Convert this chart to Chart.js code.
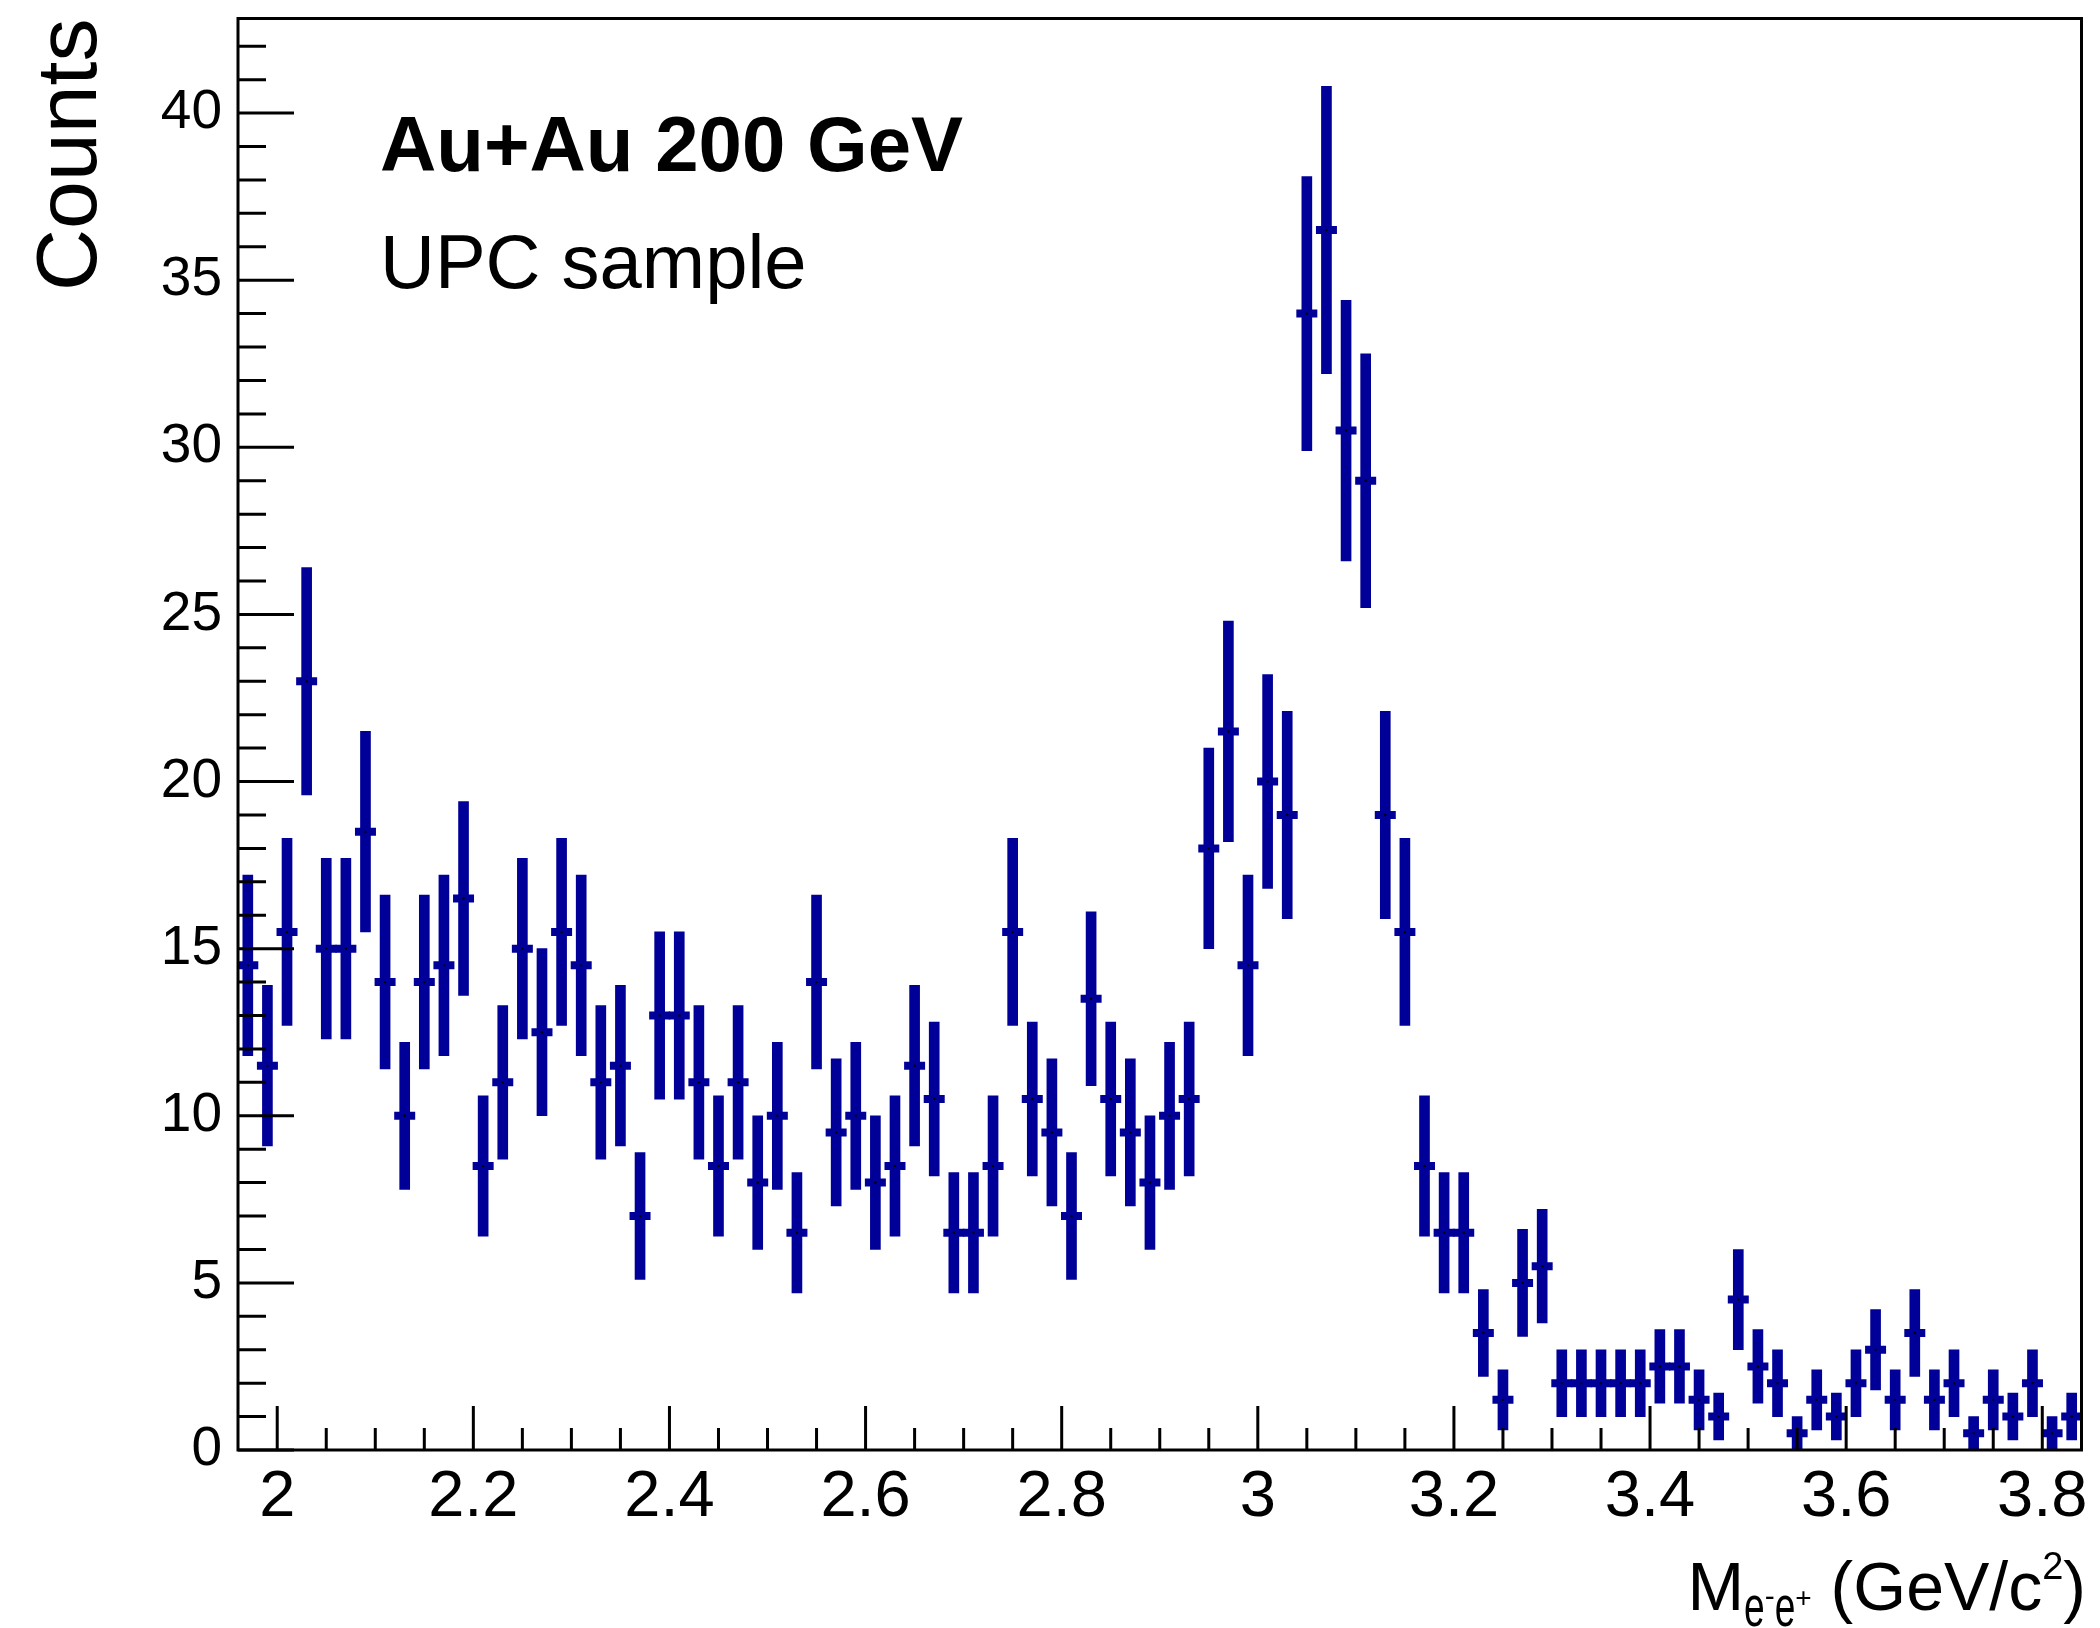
<!DOCTYPE html>
<html>
<head>
  <title>Dielectron invariant mass, UPC sample</title>
  <script src="https://cdn.jsdelivr.net/npm/chart.js@4.4.1/dist/chart.umd.min.js"></script>
  <style>
    html, body { margin: 0; padding: 0; background: #fff; }
    #wrap { width: 2100px; height: 1628px; }
  </style>
</head>
<body>
  <div id="wrap"><canvas id="massChart" width="2100" height="1628"></canvas></div>

  <script>
    // bin centres (GeV/c^2), bin width 0.02
    var massBins = [1.97,1.99,2.01,2.03,2.05,2.07,2.09,2.11,2.13,2.15,2.17,2.19,
      2.21,2.23,2.25,2.27,2.29,2.31,2.33,2.35,2.37,2.39,
      2.41,2.43,2.45,2.47,2.49,2.51,2.53,2.55,2.57,2.59,
      2.61,2.63,2.65,2.67,2.69,2.71,2.73,2.75,2.77,2.79,
      2.81,2.83,2.85,2.87,2.89,2.91,2.93,2.95,2.97,2.99,
      3.01,3.03,3.05,3.07,3.09,3.11,3.13,3.15,3.17,3.19,
      3.21,3.23,3.25,3.27,3.29,3.31,3.33,3.35,3.37,3.39,
      3.41,3.43,3.45,3.47,3.49,3.51,3.53,3.55,3.57,3.59,
      3.61,3.63,3.65,3.67,3.69,3.71,3.73,3.75,3.77,3.79,
      3.81,3.83];

    var counts = [14.5,11.5,15.5,23,15,15,18.5,14,10,14,14.5,16.5,
      8.5,11,15,12.5,15.5,14.5,11,11.5,7,13,
      13,11,8.5,11,8,10,6.5,14,9.5,10,
      8,8.5,11.5,10.5,6.5,6.5,8.5,15.5,10.5,9.5,
      7,13.5,10.5,9.5,8,10,10.5,18,21.5,14.5,
      20,19,34,36.5,30.5,29,19,15.5,8.5,6.5,
      6.5,3.5,1.5,5,5.5,2,2,2,2,2,
      2.5,2.5,1.5,1,4.5,2.5,2,0.5,1.5,1,
      2,3,1.5,3.5,1.5,2,0.5,1.5,1,2,
      0.5,1];

    var errors = [2.7,2.4,2.8,3.4,2.7,2.7,3.0,2.6,2.2,2.6,2.7,2.9,
      2.1,2.3,2.7,2.5,2.8,2.7,2.3,2.4,1.9,2.5,
      2.5,2.3,2.1,2.3,2.0,2.2,1.8,2.6,2.2,2.2,
      2.0,2.1,2.4,2.3,1.8,1.8,2.1,2.8,2.3,2.2,
      1.9,2.6,2.3,2.2,2.0,2.2,2.3,3.0,3.3,2.7,
      3.2,3.1,4.1,4.3,3.9,3.8,3.1,2.8,2.1,1.8,
      1.8,1.3,0.9,1.6,1.7,1.0,1.0,1.0,1.0,1.0,
      1.1,1.1,0.9,0.7,1.5,1.1,1.0,0.5,0.9,0.7,
      1.0,1.2,0.9,1.3,0.9,1.0,0.5,0.9,0.7,1.0,
      0.5,0.7];

    var xTickLabels = [2, 2.2, 2.4, 2.6, 2.8, 3, 3.2, 3.4, 3.6, 3.8];
    var yTickLabels = [0, 5, 10, 15, 20, 25, 30, 35, 40];
    var xRange = [1.96, 3.84];
    var yRange = [0, 42.83];
    var xMinorStep = 0.05;
    var yMinorStep = 1;

    var FONT = "'Liberation Sans', Arial, Helvetica, sans-serif";
    var BLUE = "#000099";

    function noOverflow(s) {
      s.paddingLeft = 0; s.paddingRight = 0;
      s.paddingTop = 0; s.paddingBottom = 0;
    }

    // ROOT-like frame, inner ticks and the text labels
    var rootStyle = {
      id: "rootStyle",
      afterDatasetsDraw: function(chart) {
        var ctx = chart.ctx;
        var a = chart.chartArea;
        var xs = chart.scales.x, ys = chart.scales.y;
        ctx.save();
        ctx.strokeStyle = "#000";
        ctx.lineWidth = 3;
        ctx.strokeRect(a.left, a.top, a.right - a.left, a.bottom - a.top);

        ctx.beginPath();
        var i, v, p, major;
        var first = Math.ceil(xRange[0] / xMinorStep - 1e-9);
        for (i = first; i * xMinorStep <= xRange[1] + 1e-9; i++) {
          v = i * xMinorStep;
          major = i % 4 === 0;
          p = xs.getPixelForValue(v);
          ctx.moveTo(p, a.bottom);
          ctx.lineTo(p, a.bottom - (major ? 44 : 22));
        }
        for (v = yRange[0]; v <= yRange[1]; v += yMinorStep) {
          major = v % 5 === 0;
          p = ys.getPixelForValue(v);
          ctx.moveTo(a.left, p);
          ctx.lineTo(a.left + (major ? 56 : 28), p);
        }
        ctx.stroke();

        ctx.fillStyle = "#000";
        ctx.textBaseline = "alphabetic";
        ctx.textAlign = "left";
        ctx.font = "bold 78px " + FONT;
        ctx.fillText("Au+Au 200 GeV", 380, 171);
        ctx.font = "76px " + FONT;
        ctx.fillText("UPC sample", 380, 288);

        // y title, aligned to the top of the frame
        ctx.save();
        ctx.translate(96, a.top);
        ctx.rotate(-Math.PI / 2);
        ctx.textAlign = "right";
        ctx.font = "86px " + FONT;
        ctx.fillText("Counts", 0, 0);
        ctx.restore();

        // x title, right aligned under the axis
        var parts = [
          { t: "M", s: 68, dy: 0, sx: 1 },
          { t: "e", s: 58, dy: 16, sx: 0.64 },
          { t: "-", s: 30, dy: -4, sx: 1 },
          { t: "e", s: 58, dy: 16, sx: 0.64 },
          { t: "+", s: 28, dy: -3, sx: 1 },
          { t: " (GeV/c", s: 68, dy: 0, sx: 1 },
          { t: "2", s: 38, dy: -31, sx: 1 },
          { t: ")", s: 68, dy: 0, sx: 1 }
        ];
        var total = 0;
        parts.forEach(function(q) {
          ctx.font = q.s + "px " + FONT;
          q.w = ctx.measureText(q.t).width * q.sx;
          total += q.w;
        });
        var x = 2086 - total, base = 1610;
        parts.forEach(function(q) {
          ctx.save();
          ctx.font = q.s + "px " + FONT;
          ctx.translate(x, base + q.dy);
          ctx.scale(q.sx, 1);
          ctx.fillText(q.t, 0, 0);
          ctx.restore();
          x += q.w;
        });
        ctx.restore();
      }
    };

    var ctx = document.getElementById("massChart").getContext("2d");
    new Chart(ctx, {
      type: "bar",
      data: {
        datasets: [
          {
            type: "bar",
            label: "stat. error",
            data: massBins.map(function(m, i) {
              return { x: m, y: [counts[i] - errors[i], counts[i] + errors[i]] };
            }),
            backgroundColor: BLUE,
            borderWidth: 0,
            borderSkipped: false,
            barThickness: 10,
            grouped: false,
            order: 2
          },
          {
            type: "scatter",
            label: "bin width",
            data: massBins.map(function(m, i) { return { x: m, y: counts[i] }; }),
            showLine: false,
            pointStyle: "line",
            pointRadius: 10.5,
            pointHoverRadius: 10.5,
            pointBorderColor: BLUE,
            pointBorderWidth: 8,
            order: 1
          },
          {
            type: "scatter",
            label: "counts",
            data: massBins.map(function(m, i) { return { x: m, y: counts[i] }; }),
            showLine: false,
            pointStyle: "circle",
            pointRadius: 1.2,
            pointBackgroundColor: "#000",
            pointBorderWidth: 0,
            order: 0
          }
        ]
      },
      options: {
        responsive: false,
        animation: false,
        devicePixelRatio: 1,
        layout: { padding: { left: 0, top: 13, right: 13, bottom: 0 } },
        plugins: { legend: { display: false }, tooltip: { enabled: false } },
        scales: {
          x: {
            type: "linear",
            min: xRange[0],
            max: xRange[1],
            offset: false,
            grid: { display: false, drawTicks: false },
            border: { display: false },
            afterBuildTicks: function(s) {
              s.ticks = xTickLabels.map(function(v) { return { value: v }; });
            },
            afterFit: function(s) { s.height = 178; noOverflow(s); },
            ticks: {
              autoSkip: false,
              maxRotation: 0,
              padding: 9,
              color: "#000",
              font: { family: FONT, size: 65 },
              callback: function(v) { return String(v); }
            }
          },
          y: {
            type: "linear",
            min: yRange[0],
            max: yRange[1],
            grid: { display: false, drawTicks: false },
            border: { display: false },
            afterBuildTicks: function(s) {
              s.ticks = yTickLabels.map(function(v) { return { value: v }; });
            },
            afterFit: function(s) { s.width = 238; noOverflow(s); },
            ticks: {
              autoSkip: false,
              padding: 16,
              color: "#000",
              font: { family: FONT, size: 55 },
              callback: function(v) { return String(v); }
            }
          }
        }
      },
      plugins: [rootStyle]
    });
  </script>
</body>
</html>
